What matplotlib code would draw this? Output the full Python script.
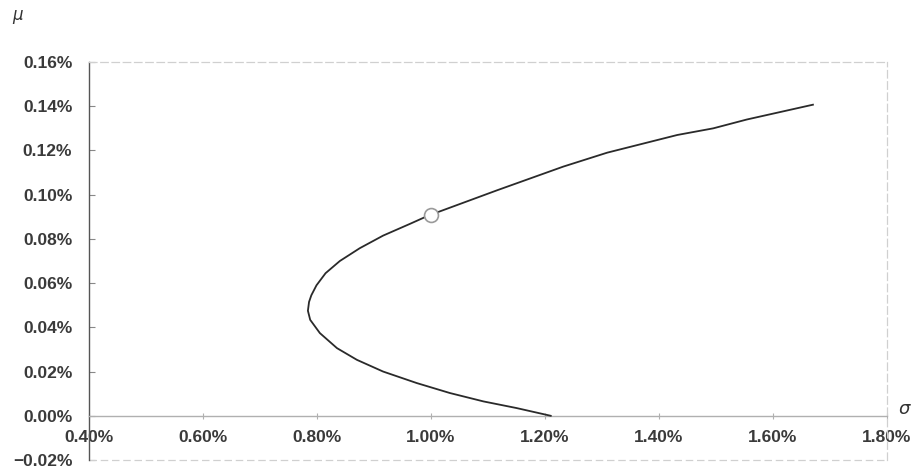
import matplotlib.pyplot as plt
from matplotlib.ticker import FuncFormatter

# frontier points (sigma %, mu %), from the low end up
sigma = [1.21, 1.150, 1.092, 1.033, 0.975, 0.916, 0.870, 0.835, 0.805, 0.788,
         0.784, 0.786, 0.790, 0.799, 0.815, 0.840, 0.875, 0.916, 0.963, 0.995,
         1.116, 1.232, 1.309, 1.432, 1.495, 1.554, 1.670]
mu = [0.000, 0.0035, 0.0065, 0.0103, 0.0148, 0.0200, 0.0253, 0.0306, 0.0374, 0.0434,
      0.0475, 0.0515, 0.0545, 0.0590, 0.0645, 0.0700, 0.0758, 0.0815, 0.0868, 0.0905,
      0.102, 0.1127, 0.119, 0.127, 0.130, 0.134, 0.1407]

# marked portfolio
point_sigma = [1.00]
point_mu = [0.091]

x_ticks = [0.40, 0.60, 0.80, 1.00, 1.20, 1.40, 1.60, 1.80]
y_ticks = [-0.02, 0.00, 0.02, 0.04, 0.06, 0.08, 0.10, 0.12, 0.14, 0.16]

plt.rcParams['font.family'] = ['Liberation Sans', 'DejaVu Sans']

fig = plt.figure(figsize=(9.14, 4.72), dpi=100)
ax = fig.add_axes([0.0974, 0.0254, 0.8731, 0.8432])

ax.plot(sigma, mu, color='#2a2a2a', lw=1.3, zorder=3, solid_joinstyle='round')
ax.plot(point_sigma, point_mu, 'o', ms=10, mfc='white', mec='#9a9a9a', mew=1.2, zorder=4)

ax.set_xlim(0.40, 1.80)
ax.set_ylim(-0.02, 0.16)
ax.set_xticks(x_ticks)
ax.set_yticks(y_ticks)
pct = FuncFormatter(lambda v, p: f"{v:.2f}%".replace('-', '\u2212'))
ax.xaxis.set_major_formatter(pct)
ax.yaxis.set_major_formatter(pct)

# horizontal axis sits at mu = 0
ax.spines['bottom'].set_position(('data', 0))
ax.spines['bottom'].set_color('#b0b0b0')
ax.spines['bottom'].set_linewidth(1.0)
ax.spines['left'].set_color('#555555')
ax.spines['left'].set_linewidth(1.0)
for s in ['top', 'right']:
    ax.spines[s].set_color('#d0d0d0')
    ax.spines[s].set_linestyle((0, (6, 3)))
    ax.spines[s].set_linewidth(0.9)
ax.axhline(-0.02, color='#d0d0d0', lw=0.9, ls=(0, (6, 3)), clip_on=False)

ax.tick_params(axis='x', direction='inout', length=5, width=0.8, color='#b0b0b0',
               labelsize=12.5, labelcolor='#3a3a3a', pad=8)
ax.tick_params(axis='y', direction='in', length=4, width=0.8, color='#888888',
               labelsize=12.5, labelcolor='#3a3a3a', pad=12)
for lab in ax.get_xticklabels() + ax.get_yticklabels():
    lab.set_fontweight('bold')

fig.text(0.013, 0.965, r'$\mu$', fontsize=12, color='#333333', va='center')
fig.text(0.982, 0.132, r'$\sigma$', fontsize=13, color='#333333', va='center')

fig.savefig('out.png', dpi=100)
